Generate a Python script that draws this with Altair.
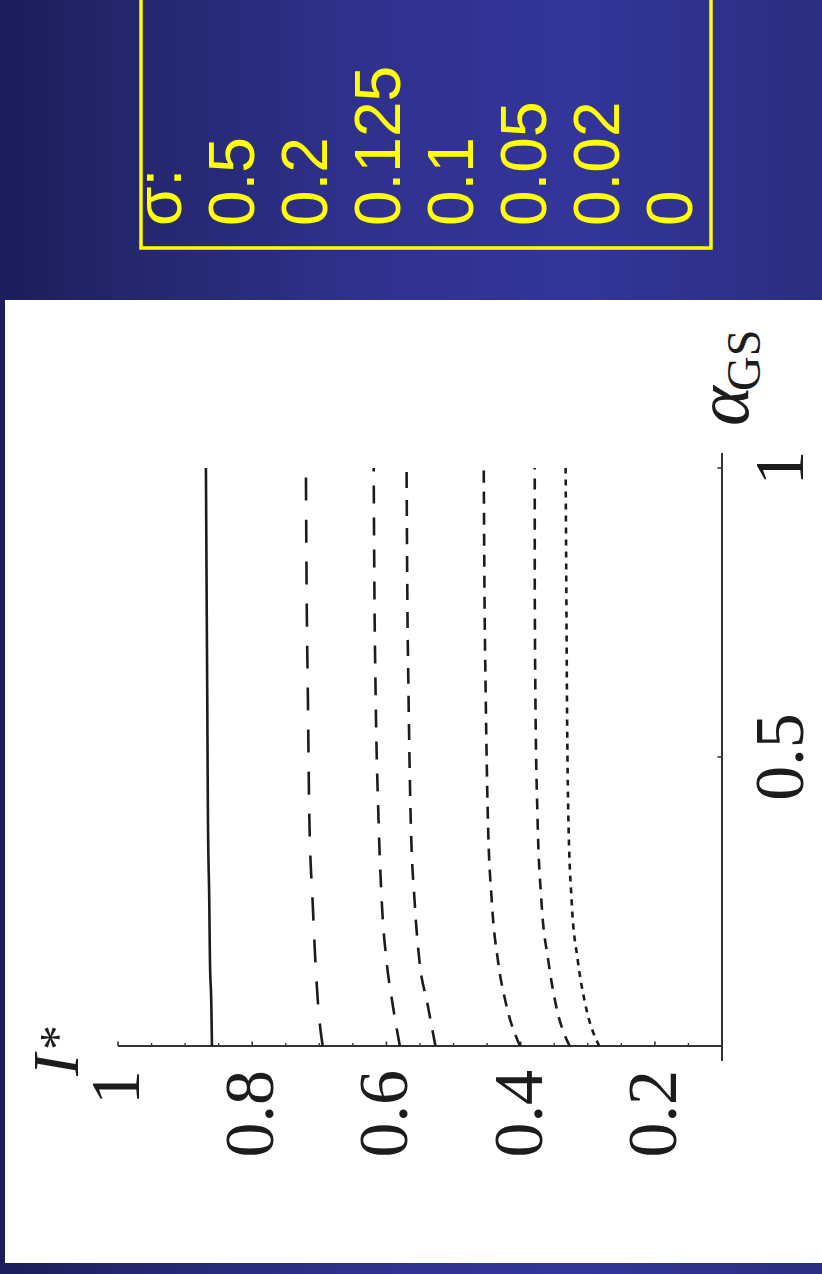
import altair as alt
import pandas as pd

# ---- data -------------------------------------------------------------
sigma_labels = ["0.5", "0.2", "0.125", "0.1", "0.05", "0.02", "0"]

alpha_gs = [0.0, 0.074, 0.149, 0.25, 0.4, 0.6, 0.8, 1.0]

# I* as a function of alpha_GS, one list per noise level sigma
info_0 = [0.860, 0.861, 0.863, 0.864, 0.866, 0.867, 0.868, 0.869]
info_002 = [0.695, 0.702, 0.706, 0.710, 0.715, 0.717, 0.719, 0.720]
info_005 = [0.580, 0.591, 0.600, 0.607, 0.612, 0.616, 0.618, 0.619]
info_01 = [0.527, 0.539, 0.551, 0.558, 0.564, 0.567, 0.569, 0.570]
info_0125 = [0.401, 0.422, 0.434, 0.443, 0.449, 0.452, 0.454, 0.455]
info_02 = [0.327, 0.348, 0.359, 0.369, 0.375, 0.378, 0.379, 0.379]
info_05 = [0.283, 0.304, 0.315, 0.324, 0.329, 0.331, 0.332, 0.333]

series_order = ["0", "0.02", "0.05", "0.1", "0.125", "0.2", "0.5"]
series_values = [info_0, info_002, info_005, info_01, info_0125, info_02, info_05]
dash_styles = [[1, 0], [23, 19], [18, 14], [16, 12], [12, 9], [11, 9], [6, 6]]

info_major_ticks = [0.2, 0.4, 0.6, 0.8, 1.0]
info_minor_ticks = [0.15, 0.25, 0.3, 0.35, 0.45, 0.5, 0.55, 0.65, 0.7, 0.75,
                    0.85, 0.9, 0.95]
info_tick_labels = ["0.2", "0.4", "0.6", "0.8", "1"]
alpha_ticks = [0.5, 1.0]
alpha_tick_labels = ["0.5", "1"]

# ---- tables -----------------------------------------------------------
curves = pd.DataFrame(
    [
        {"sigma": s, "alpha": a, "I": v}
        for s, vals in zip(series_order, series_values)
        for a, v in zip(alpha_gs, vals)
    ]
)
major_df = pd.DataFrame({"I": info_major_ticks, "label": info_tick_labels})
minor_df = pd.DataFrame({"I": info_minor_ticks})
alpha_df = pd.DataFrame({"alpha": alpha_ticks, "label": alpha_tick_labels})
one_row = pd.DataFrame({"k": [0]})
legend_df = pd.DataFrame({"label": ["\n".join(["σ:"] + sigma_labels)]})

# The figure is shown turned a quarter-turn: I* runs right-to-left along
# the bottom, alpha_GS runs upward along the right.
X_SCALE = alt.Scale(domain=[0.1, 1.0], range=[722, 118], zero=False, nice=False)
Y_SCALE = alt.Scale(domain=[0.0, 1.0], range=[1046, 468], zero=False, nice=False)

SERIF = "Liberation Serif"
INK = "#1c1c1c"

# ---- backdrop ---------------------------------------------------------
backdrop = alt.Chart(one_row).mark_rect(
    fill=alt.Gradient(
        gradient="linear",
        stops=[
            alt.GradientStop(color="#1d1c5a", offset=0),
            alt.GradientStop(color="#24266c", offset=0.15),
            alt.GradientStop(color="#30318e", offset=0.45),
            alt.GradientStop(color="#33359a", offset=0.7),
            alt.GradientStop(color="#2b2d80", offset=1),
        ],
        x1=0, x2=1, y1=0, y2=0,
    )
).encode(x=alt.value(0), x2=alt.value(822), y=alt.value(0), y2=alt.value(1274))

panel = alt.Chart(one_row).mark_rect(fill="white").encode(
    x=alt.value(5), x2=alt.value(830), y=alt.value(300), y2=alt.value(1263)
)

# ---- axes -------------------------------------------------------------
info_axis = alt.Chart(one_row).mark_rule(color="#333333", strokeWidth=2).encode(
    x=alt.XDatum(1.0, type="quantitative", scale=X_SCALE, axis=None),
    x2=alt.X2Datum(0.1),
    y=alt.YDatum(0.0, type="quantitative", scale=Y_SCALE, axis=None),
)
alpha_axis = alt.Chart(one_row).mark_rule(color="#333333", strokeWidth=2).encode(
    x=alt.XDatum(0.1, type="quantitative", scale=X_SCALE, axis=None),
    y=alt.YDatum(-0.026, type="quantitative", scale=Y_SCALE, axis=None),
    y2=alt.Y2Datum(1.026),
)

major_ticks = alt.Chart(major_df).mark_rule(color="#333333", strokeWidth=1.6).encode(
    x=alt.X("I:Q", scale=X_SCALE, axis=None),
    y=alt.value(1046), y2=alt.value(1041.5),
)
minor_ticks = alt.Chart(minor_df).mark_rule(color="#333333", strokeWidth=1.4).encode(
    x=alt.X("I:Q", scale=X_SCALE, axis=None),
    y=alt.value(1046), y2=alt.value(1043),
)
alpha_tick_marks = alt.Chart(alpha_df).mark_rule(color="#333333", strokeWidth=1.6).encode(
    y=alt.Y("alpha:Q", scale=Y_SCALE, axis=None),
    x=alt.value(722), x2=alt.value(717.5),
)

info_labels = alt.Chart(major_df).mark_text(
    angle=270, align="right", baseline="middle", font=SERIF, fontSize=70, color=INK
).encode(
    x=alt.X("I:Q", scale=X_SCALE, axis=None),
    y=alt.value(1070),
    text="label:N",
)
alpha_labels = alt.Chart(alpha_df).mark_text(
    angle=270, align="center", baseline="alphabetic", font=SERIF, fontSize=70, color=INK
).encode(
    y=alt.Y("alpha:Q", scale=Y_SCALE, axis=None),
    x=alt.value(803),
    text="label:N",
)

# axis titles: I* and alpha_GS
title_i = alt.Chart(one_row).mark_text(
    text="I", angle=270, align="left", baseline="alphabetic", font=SERIF,
    fontStyle="italic", fontSize=66, color=INK,
).encode(x=alt.value(78), y=alt.value(1076))
title_star = alt.Chart(one_row).mark_text(
    text="*", angle=270, align="left", baseline="alphabetic", font=SERIF,
    fontSize=50, color=INK,
).encode(x=alt.value(74), y=alt.value(1050))
title_alpha = alt.Chart(one_row).mark_text(
    text="α", angle=270, align="left", baseline="alphabetic", font=SERIF,
    fontStyle="italic", fontSize=76, color=INK,
).encode(x=alt.value(748), y=alt.value(426))
title_gs = alt.Chart(one_row).mark_text(
    text="GS", angle=270, align="left", baseline="alphabetic", font=SERIF,
    fontSize=48, color=INK,
).encode(x=alt.value(760), y=alt.value(391))

# ---- curves -----------------------------------------------------------
lines = alt.Chart(curves).mark_line(
    color=INK, strokeWidth=2.6, interpolate="monotone"
).encode(
    x=alt.X("I:Q", scale=X_SCALE, axis=None),
    y=alt.Y("alpha:Q", scale=Y_SCALE, axis=None),
    strokeDash=alt.StrokeDash(
        "sigma:N", scale=alt.Scale(domain=series_order, range=dash_styles), legend=None
    ),
    detail="sigma:N",
    order=alt.Order("alpha:Q"),
)

# ---- sigma legend box -------------------------------------------------
legend_box = alt.Chart(one_row).mark_rect(
    fillOpacity=0, stroke="#ffff00", strokeWidth=3.5
).encode(x=alt.value(141), x2=alt.value(711), y=alt.value(-10), y2=alt.value(248))

legend_text = alt.Chart(legend_df).mark_text(
    angle=270, align="left", baseline="alphabetic", lineBreak="\n", lineHeight=73,
    font="Liberation Sans", fontSize=64, color="#ffff00",
).encode(x=alt.value(181), y=alt.value(226), text="label:N")

chart = alt.layer(
    backdrop, panel, legend_box, legend_text,
    info_axis, alpha_axis, major_ticks, minor_ticks, alpha_tick_marks,
    lines, info_labels, alpha_labels,
    title_i, title_star, title_alpha, title_gs,
).properties(
    width=822, height=1274, padding=0,
    autosize=alt.AutoSizeParams(type="none"),
).configure_view(strokeWidth=0)

chart.save("out.html", embed_options={"renderer": "svg", "actions": False})
